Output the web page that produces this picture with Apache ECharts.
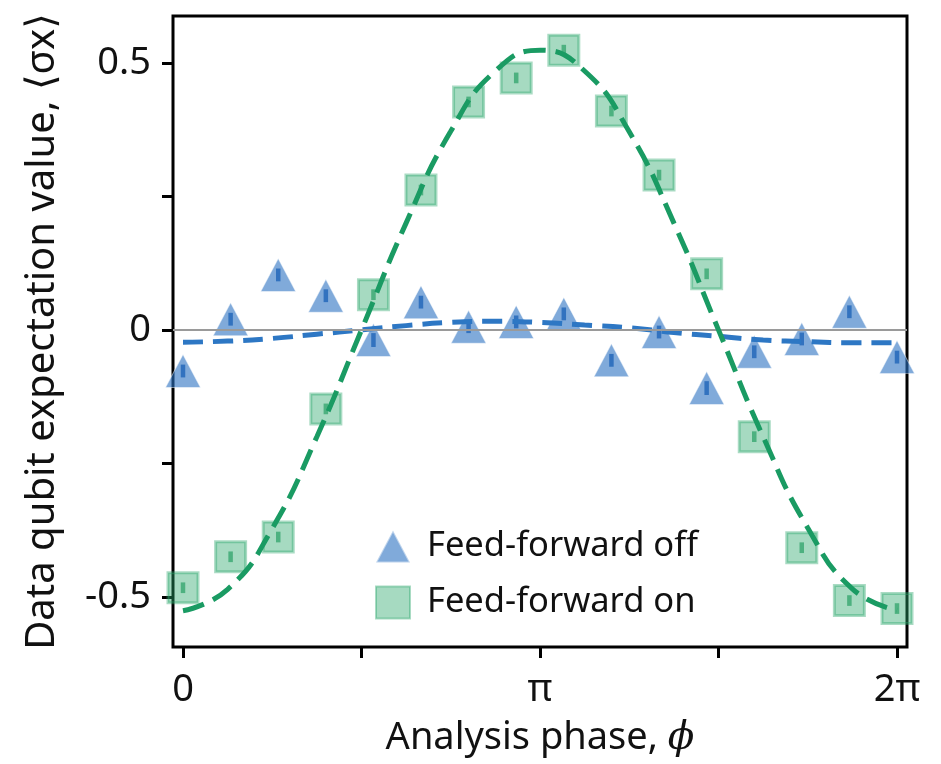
<!DOCTYPE html>
<html>
<head>
<meta charset="utf-8">
<script src="https://cdn.jsdelivr.net/npm/echarts@6/dist/echarts.min.js"></script>
<style>
  html, body { margin: 0; padding: 0; background: #fff; }
  #container { width: 941px; height: 764px; }
</style>
</head>
<body>
<div id="container"></div>
<script>
// measured points (phase in rad)
var phase = [0, 0.419, 0.838, 1.257, 1.676, 2.094, 2.513, 2.932, 3.351, 3.770, 4.189, 4.608, 5.027, 5.445, 5.864, 6.283];
var ffOff = [-0.077, 0.020, 0.103, 0.064, -0.019, 0.052, 0.006, 0.015, 0.030, -0.057, -0.004, -0.109, -0.041, -0.017, 0.034, -0.051];
var ffOn = [-0.483, -0.425, -0.388, -0.148, 0.066, 0.262, 0.427, 0.472, 0.524, 0.410, 0.290, 0.105, -0.200, -0.408, -0.507, -0.522];
var errOff = [0.012, 0.012, 0.012, 0.012, 0.013, 0.012, 0.012, 0.012, 0.012, 0.012, 0.012, 0.013, 0.012, 0.012, 0.012, 0.012];
var errOn = [0.010, 0.010, 0.010, 0.010, 0.010, 0.010, 0.010, 0.010, 0.010, 0.010, 0.010, 0.010, 0.010, 0.010, 0.010, 0.010];

// fit curves
var fitPhase = [0, 0.393, 0.785, 1.178, 1.571, 1.963, 2.356, 2.749, 3.142, 3.534, 3.927, 4.320, 4.712, 5.105, 5.498, 5.890, 6.283];
var fitOff = [-0.023, -0.021, -0.016, -0.008, 0.000, 0.008, 0.014, 0.016, 0.014, 0.009, 0.004, -0.005, -0.012, -0.019, -0.022, -0.024, -0.024];
var fitOn = [-0.526, -0.486, -0.372, -0.200, 0.000, 0.200, 0.372, 0.485, 0.524, 0.485, 0.371, 0.200, 0.000, -0.200, -0.371, -0.485, -0.525];

var xTicks = [0, Math.PI / 2, Math.PI, 3 * Math.PI / 2, 2 * Math.PI];
var xLabels = [0, Math.PI, 2 * Math.PI];
var xLabelText = ['0', 'π', '2π'];
var yTicks = [-0.5, -0.25, 0, 0.25, 0.5];
var yLabels = [-0.5, 0, 0.5];

var font = '"Noto Sans", "DejaVu Sans", sans-serif';

function pairs(xs, ys) {
  var out = [];
  for (var i = 0; i < xs.length; i++) out.push([xs[i], ys[i]]);
  return out;
}
function errData(xs, ys, es) {
  var out = [];
  for (var i = 0; i < xs.length; i++) out.push([xs[i], ys[i] - es[i], ys[i] + es[i]]);
  return out;
}
function errRender(color) {
  return function (params, api) {
    var p1 = api.coord([api.value(0), api.value(1)]);
    var p2 = api.coord([api.value(0), api.value(2)]);
    return {
      type: 'line',
      shape: { x1: p1[0], y1: p1[1], x2: p2[0], y2: p2[1] },
      style: { stroke: color, lineWidth: 4.5 }
    };
  };
}

var dom = document.getElementById('container');
var myChart = echarts.init(dom);

var option = {
  animation: false,
  backgroundColor: '#fff',
  grid: {
    left: 173, top: 16, width: 734, height: 631,
    show: true, borderColor: '#000', borderWidth: 3, backgroundColor: 'transparent'
  },
  legend: {
    orient: 'vertical',
    left: 370, top: 524,
    itemWidth: 34, itemHeight: 32, itemGap: 21,
    data: ['Feed-forward off', 'Feed-forward on'],
    textStyle: { fontFamily: font, fontSize: 34.5, color: '#111', padding: [0, 0, 0, 12] }
  },
  xAxis: {
    type: 'value',
    min: -0.088, max: 6.371,
    axisLine: { show: false, onZero: false },
    splitLine: { show: false },
    axisTick: { show: true, length: 11, lineStyle: { color: '#000', width: 3 }, customValues: xTicks },
    axisLabel: {
      customValues: xLabels, margin: 24,
      fontFamily: font, fontSize: 38, color: '#111',
      formatter: function (v) {
        for (var i = 0; i < xLabels.length; i++) if (Math.abs(v - xLabels[i]) < 1e-6) return xLabelText[i];
        return '';
      }
    },
    name: '{a|Analysis phase, }{b|ϕ}',
    nameLocation: 'middle',
    nameGap: 72,
    nameTextStyle: {
      rich: {
        a: { fontFamily: font, fontSize: 38, color: '#111' },
        b: { fontFamily: '"DejaVu Serif", serif', fontStyle: 'italic', fontSize: 39, color: '#111' }
      }
    }
  },
  yAxis: {
    type: 'value',
    min: -0.594, max: 0.588,
    axisLine: { show: false, onZero: false },
    splitLine: { show: false },
    axisTick: { show: true, length: 11, lineStyle: { color: '#000', width: 3 }, customValues: yTicks },
    axisLabel: {
      customValues: yLabels, margin: 22,
      fontFamily: font, fontSize: 38, color: '#111',
      formatter: function (v) { return v === 0 ? '0' : String(v); }
    },
    name: 'Data qubit expectation value, ⟨σx⟩',
    nameLocation: 'middle',
    nameGap: 110,
    nameTextStyle: { fontFamily: font, fontSize: 40, color: '#111' }
  },
  series: [
    {
      name: 'zero',
      type: 'line',
      data: [],
      silent: true,
      markLine: {
        silent: true, symbol: 'none', label: { show: false },
        lineStyle: { color: '#9a9a9a', width: 2, type: 'solid' },
        data: [{ yAxis: 0 }]
      }
    },
    {
      name: 'Feed-forward off',
      type: 'scatter',
      symbol: 'triangle',
      symbolSize: [35, 33],
      itemStyle: { color: 'rgba(44,114,194,0.75)', borderColor: 'rgba(255,255,255,0.6)', borderWidth: 1 },
      data: pairs(phase, ffOff),
      z: 2
    },
    {
      name: 'errOff',
      type: 'custom',
      renderItem: errRender('rgba(36,104,186,0.85)'),
      data: errData(phase, ffOff, errOff),
      encode: { x: 0, y: [1, 2] },
      z: 3
    },
    {
      name: 'Feed-forward on',
      type: 'scatter',
      symbol: 'rect',
      symbolSize: 30,
      itemStyle: { color: 'rgba(40,165,105,0.52)', borderColor: 'rgba(40,165,105,0.5)', borderWidth: 3 },
      data: pairs(phase, ffOn),
      z: 2
    },
    {
      name: 'errOn',
      type: 'custom',
      renderItem: errRender('rgba(40,160,100,0.7)'),
      data: errData(phase, ffOn, errOn),
      encode: { x: 0, y: [1, 2] },
      z: 3
    },
    {
      name: 'fitOff',
      type: 'line',
      smooth: true,
      showSymbol: false,
      data: pairs(fitPhase, fitOff),
      lineStyle: { color: '#2d77c4', width: 5, type: [20, 10] },
      z: 4
    },
    {
      name: 'fitOn',
      type: 'line',
      smooth: true,
      showSymbol: false,
      data: pairs(fitPhase, fitOn),
      lineStyle: { color: '#1a9b63', width: 5, type: [22, 10] },
      z: 5
    }
  ]
};

myChart.setOption(option);
window.onresize = function () { myChart.resize(); };
</script>
</body>
</html>
